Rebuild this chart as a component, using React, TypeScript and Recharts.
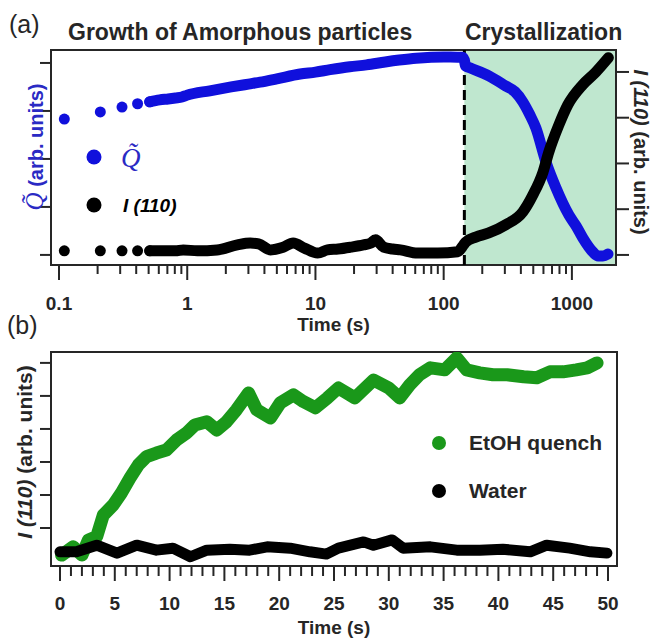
import React from 'react';
import { ComposedChart, Line, XAxis, YAxis, ReferenceArea, ReferenceLine, Legend } from 'recharts';

const SANS = "'Liberation Sans', Arial, sans-serif";
const SERIF = "'Liberation Serif', 'Times New Roman', serif";
const INK = '#262626';
const BLUE = '#1010dc';
const BLUE_TEXT = '#2a2ac4';
const GREEN = '#1a981a';
const SHADE = '#bfe7cf';

// ---------- panel (a): log time axis ----------
const A_MIN = 0.0866;
const A_MAX = 2208;
const CRYST_START = 145;

const aMajorTicks = [0.1, 1, 10, 100, 1000];
const aTickLabels = ['0.1', '1', '10', '100', '1000'];
const aMinorTicks = aMajorTicks
  .flatMap((d) => [2, 3, 4, 5, 6, 7, 8, 9].map((k) => +(d * k).toPrecision(6)))
  .filter((v) => v < 1500);

// Q~ (left axis), first separated points then the dense band
const qEarlyTime = [0.11, 0.21, 0.31, 0.41, 0.51];
const qEarlyVal = [2.83, 2.98, 3.08, 3.15, 3.19];
const qTime = [
  0.51, 0.61, 0.71, 0.81, 0.91, 1.0, 1.5, 2.2, 3.0, 3.7, 5.0, 7.6, 10, 13, 18.5, 25, 35, 45, 61, 80,
  100, 128, 140, 145, 148, 160, 225, 305, 360, 414, 470, 523, 627, 750, 948, 1080, 1219, 1459, 1600,
  1746, 1911,
];
const qVal = [
  3.19, 3.23, 3.25, 3.27, 3.29, 3.33, 3.42, 3.5, 3.56, 3.6, 3.67, 3.77, 3.81, 3.86, 3.92, 3.96, 4.02,
  4.06, 4.1, 4.12, 4.125, 4.12, 4.12, 4.06, 3.94, 3.9, 3.73, 3.52, 3.4, 3.19, 2.92, 2.65, 1.94, 1.4,
  0.83, 0.6, 0.35, 0.06, -0.02, -0.02, 0.02,
];

// I(110) (right axis)
const iEarlyTime = [0.11, 0.21, 0.31, 0.41, 0.51];
const iEarlyVal = [0.09, 0.09, 0.09, 0.09, 0.09];
const iTime = [
  0.51, 0.61, 0.71, 0.81, 0.93, 1.2, 1.71, 2.46, 3.1, 3.6, 4.45, 5.6, 6.7, 8.2, 10.4, 12.4, 15,
  18.8, 23.7, 27, 29.4, 34, 40, 46, 62.6, 89.8, 128.6, 143, 148.6, 178, 225, 305, 414, 496, 595, 661,
  791, 929, 1213, 1540, 1925,
];
const iVal = [
  0.09, 0.09, 0.09, 0.09, 0.11, 0.09, 0.11, 0.22, 0.26, 0.24, 0.11, 0.17, 0.26, 0.15, 0.04,
  0.11, 0.13, 0.17, 0.22, 0.26, 0.33, 0.17, 0.13, 0.11, 0.04, 0.04, 0.07, 0.22, 0.28, 0.39, 0.48,
  0.66, 0.94, 1.31, 1.81, 2.25, 2.84, 3.28, 3.72, 4.0, 4.31,
];

// ---------- panel (b): linear time axis ----------
const B_MIN = -0.82;
const B_MAX = 50.82;
const bMajorTicks = [0, 5, 10, 15, 20, 25, 30, 35, 40, 45, 50];
const bTickLabels = ['0', '5', '10', '15', '20', '25', '30', '35', '40', '45', '50'];
const bAllTicks = Array.from({ length: 51 }, (_, i) => i);

const etohTime = [
  0.15, 1.2, 2.0, 2.6, 3.35, 3.95, 4.86, 5.6, 6.4, 7.15, 7.9, 8.8, 9.7, 10.65, 11.56, 12.3, 13.4, 14.3,
  15.2, 16.1, 17.2, 17.95, 19.2, 20.1, 21.3, 22.2, 23.3, 24.4, 25.4, 26.9, 28.6, 30.0, 31.0, 31.9, 32.8,
  33.8, 35.1, 36.2, 37.1, 38.3, 39.5, 40.8, 42.3, 43.5, 44.7, 45.9, 47.1, 48.1, 49.0,
];
const etohVal = [
  -0.82, -0.57, -0.82, -0.36, -0.26, 0.39, 0.7, 1.06, 1.52, 1.91, 2.16, 2.27, 2.36, 2.67, 2.88, 3.12,
  3.22, 2.97, 3.22, 3.58, 4.09, 3.58, 3.33, 3.79, 4.03, 3.83, 3.64, 3.94, 4.24, 3.94, 4.48, 4.24, 3.94,
  4.33, 4.64, 4.85, 4.79, 5.15, 4.79, 4.7, 4.64, 4.64, 4.58, 4.55, 4.73, 4.73, 4.79, 4.85, 5.0,
];
const waterTime = [
  0, 1.5, 3.35, 5.2, 7.0, 8.8, 10.3, 11.9, 13.4, 15.5, 17.3, 18.9, 21.0, 22.8, 24.3, 25.4, 27.7, 28.6,
  30.3, 31.3, 33.8, 36.2, 38.3, 40.4, 42.9, 44.4, 46.5, 48.4, 49.9,
];
const waterVal = [
  -0.72, -0.72, -0.52, -0.76, -0.52, -0.67, -0.61, -0.87, -0.67, -0.64, -0.67, -0.57, -0.61, -0.72,
  -0.79, -0.61, -0.42, -0.52, -0.36, -0.61, -0.57, -0.67, -0.67, -0.64, -0.72, -0.52, -0.61, -0.72,
  -0.76,
];

const zip = (ts: number[], vs: number[]) => ts.map((t, i) => ({ t, v: vs[i] }));

const qEarly = zip(qEarlyTime, qEarlyVal);
const qDense = zip(qTime, qVal);
const iEarly = zip(iEarlyTime, iEarlyVal);
const iDense = zip(iTime, iVal);
const etoh = zip(etohTime, etohVal);
const water = zip(waterTime, waterVal);

const tickText = { fontFamily: SANS, fontWeight: 700, fontSize: 19, fill: INK };

const LogTick = ({ x, y, payload }: any) => {
  const i = aMajorTicks.findIndex((m) => Math.abs(m - payload.value) / m < 1e-6);
  return (
    <g>
      <line x1={x} x2={x} y1={y} y2={y + (i >= 0 ? 15 : 9)} stroke={INK} strokeWidth={2} />
      {i >= 0 && (
        <text x={x} y={y + 45} textAnchor="middle" {...tickText}>
          {aTickLabels[i]}
        </text>
      )}
    </g>
  );
};

const LinTick = ({ x, y, payload }: any) => {
  const i = bMajorTicks.indexOf(payload.value);
  return (
    <g>
      <line x1={x} x2={x} y1={y} y2={y + (i >= 0 ? 15 : 10)} stroke={INK} strokeWidth={2} />
      {i >= 0 && (
        <text x={x} y={y + 44} textAnchor="middle" {...tickText}>
          {bTickLabels[i]}
        </text>
      )}
    </g>
  );
};

// y ticks carry no labels, only an outward mark
const YTick = ({ x, y, len }: any) => (
  <line x1={x} x2={x + len} y1={y} y2={y} stroke={INK} strokeWidth={2} />
);

const LegendA = () => (
  <svg width={654} height={345} style={{ display: 'block' }}>
    <circle cx={94} cy={157} r={7.5} fill={BLUE} />
    <text x={121} y={167} fontFamily={SERIF} fontStyle="italic" fontSize={27} fill={BLUE_TEXT}>
      Q̃
    </text>
    <circle cx={94} cy={205} r={7.5} fill="#000" />
    <text x={123} y={212} fontFamily={SANS} fontStyle="italic" fontWeight={700} fontSize={19} fill="#000">
      I (110)
    </text>
  </svg>
);

const LegendB = () => (
  <svg width={654} height={311} style={{ display: 'block' }}>
    <circle cx={439} cy={113} r={7} fill={GREEN} />
    <text x={469} y={120} fontFamily={SANS} fontWeight={700} fontSize={21} fill={INK}>
      EtOH quench
    </text>
    <circle cx={439} cy={161} r={7} fill="#000" />
    <text x={469} y={168} fontFamily={SANS} fontWeight={700} fontSize={21} fill={INK}>
      Water
    </text>
  </svg>
);

const band = (color: string, width: number, curve: 'linear' | 'monotone' = 'linear') => ({
  type: curve,
  dataKey: 'v',
  stroke: color,
  strokeWidth: width,
  strokeLinecap: 'round' as const,
  strokeLinejoin: 'round' as const,
  dot: false,
  activeDot: false,
  isAnimationActive: false,
});

export default function App() {
  return (
    <div style={{ position: 'absolute', left: 0, top: 0, width: 654, height: 641, background: '#fff' }}>
      <div style={{ position: 'absolute', left: 0, top: 0 }}>
        <ComposedChart width={654} height={345} margin={{ top: 50, right: 0, bottom: 0, left: 0 }}>
          <XAxis
            xAxisId="t"
            type="number"
            dataKey="t"
            scale="log"
            domain={[A_MIN, A_MAX]}
            allowDataOverflow
            ticks={[...aMajorTicks, ...aMinorTicks].sort((a, b) => a - b)}
            interval={0}
            tick={<LogTick />}
            tickLine={false}
            axisLine={false}
            tickSize={0}
            tickMargin={0}
            height={80}
            label={{ value: 'Time (s)', position: 'insideBottom', offset: 14, ...tickText }}
          />
          <YAxis
            yAxisId="q"
            dataKey="v"
            domain={[-0.21, 4.27]}
            ticks={[0, 1, 2, 3, 4]}
            interval={0}
            allowDataOverflow
            tick={<YTick len={-11} />}
            tickSize={0}
            tickMargin={0}
            tickLine={false}
            axisLine={false}
            width={51}
          />
          <YAxis
            yAxisId="i"
            dataKey="v"
            orientation="right"
            domain={[-0.22, 4.48]}
            ticks={[0, 1, 2, 3, 4]}
            interval={0}
            allowDataOverflow
            tick={<YTick len={13} />}
            tickSize={0}
            tickMargin={0}
            tickLine={false}
            axisLine={false}
            width={38}
          />
          <ReferenceArea xAxisId="t" yAxisId="q" x1={CRYST_START} x2={A_MAX} fill={SHADE} fillOpacity={1} stroke="none" />
          <ReferenceLine xAxisId="t" yAxisId="q" x={CRYST_START} stroke="#000" strokeWidth={3} strokeDasharray="10 5" />
          <Line xAxisId="t" yAxisId="q" data={qDense} {...band(BLUE, 11, 'monotone')} />
          <Line
            xAxisId="t"
            yAxisId="q"
            data={qEarly}
            dataKey="v"
            stroke="none"
            dot={{ r: 5.5, fill: BLUE, stroke: 'none' }}
            activeDot={false}
            isAnimationActive={false}
          />
          <Line xAxisId="t" yAxisId="i" data={iDense} {...band('#000', 11, 'monotone')} />
          <Line
            xAxisId="t"
            yAxisId="i"
            data={iEarly}
            dataKey="v"
            stroke="none"
            dot={{ r: 5.5, fill: '#000', stroke: 'none' }}
            activeDot={false}
            isAnimationActive={false}
          />
          <ReferenceArea xAxisId="t" yAxisId="q" x1={A_MIN} x2={A_MAX} fill="none" stroke={INK} strokeWidth={2} />
          <Legend
            layout="horizontal"
            verticalAlign="middle"
            align="center"
            content={<LegendA />}
            wrapperStyle={{ left: 0, top: 0, width: 654, height: 345 }}
          />
        </ComposedChart>
      </div>

      <div style={{ position: 'absolute', left: 0, top: 330 }}>
        <ComposedChart width={654} height={311} margin={{ top: 22, right: 37, bottom: 0, left: 0 }}>
          <XAxis
            type="number"
            dataKey="t"
            domain={[B_MIN, B_MAX]}
            allowDataOverflow
            ticks={bAllTicks}
            interval={0}
            tick={<LinTick />}
            tickLine={false}
            axisLine={false}
            tickSize={0}
            tickMargin={0}
            height={75}
            label={{ value: 'Time (s)', position: 'insideBottom', offset: 7, ...tickText }}
          />
          <YAxis
            dataKey="v"
            domain={[-1.15, 5.33]}
            ticks={[0, 1, 2, 3, 4, 5]}
            interval={0}
            allowDataOverflow
            tick={<YTick len={-11} />}
            tickSize={0}
            tickMargin={0}
            tickLine={false}
            axisLine={false}
            width={51}
          />
          <Line data={etoh} {...band(GREEN, 13)} />
          <Line data={water} {...band('#000', 11)} />
          <ReferenceArea x1={B_MIN} x2={B_MAX} fill="none" stroke={INK} strokeWidth={2} />
          <Legend
            layout="horizontal"
            verticalAlign="middle"
            align="center"
            content={<LegendB />}
            wrapperStyle={{ left: 0, top: 0, width: 654, height: 311 }}
          />
        </ComposedChart>
      </div>

      <svg
        width={654}
        height={641}
        style={{ position: 'absolute', left: 0, top: 0, pointerEvents: 'none' }}
      >
        <text x={9} y={33} fontFamily={SANS} fontSize={25} fill={INK}>
          (a)
        </text>
        <text x={68} y={40} fontFamily={SANS} fontWeight={700} fontSize={23} fill={INK}>
          Growth of Amorphous particles
        </text>
        <text x={465} y={40} fontFamily={SANS} fontWeight={700} fontSize={23} fill={INK}>
          Crystallization
        </text>
        <text x={7} y={334} fontFamily={SANS} fontSize={25} fill={INK}>
          (b)
        </text>
        <text
          transform="translate(43,147) rotate(-90)"
          textAnchor="middle"
          fontFamily={SANS}
          fontWeight={700}
          fontSize={20}
          fill={BLUE_TEXT}
        >
          <tspan fontFamily={SERIF} fontStyle="italic" fontWeight={400} fontSize={25}>
            Q̃
          </tspan>
          <tspan> (arb. units)</tspan>
        </text>
        <text
          transform="translate(634,152) rotate(90)"
          textAnchor="middle"
          fontFamily={SANS}
          fontWeight={700}
          fontSize={20}
          fill={INK}
        >
          <tspan fontStyle="italic">I (110)</tspan>
          <tspan> (arb. units)</tspan>
        </text>
        <text
          transform="translate(32,452) rotate(-90)"
          textAnchor="middle"
          fontFamily={SANS}
          fontWeight={700}
          fontSize={21}
          fill={INK}
        >
          <tspan fontStyle="italic">I (110)</tspan>
          <tspan> (arb. units)</tspan>
        </text>
      </svg>
    </div>
  );
}
